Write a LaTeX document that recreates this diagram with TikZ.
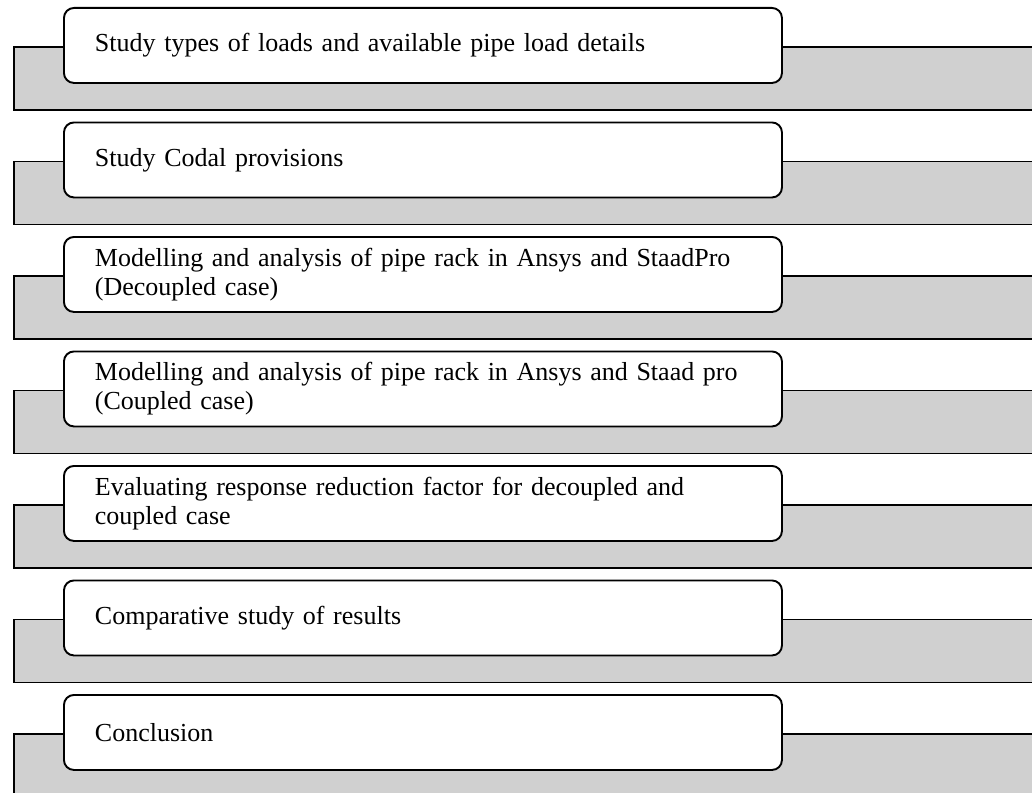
\documentclass[tikz,border=0pt]{standalone}
\usepackage{fontspec}
\setmainfont[WordSpace=0.9]{Liberation Serif}
\definecolor{bargray}{RGB}{208,208,208}
\begin{document}
\begin{tikzpicture}[x=1pt,y=-1pt,
  graybar/.style={draw=black, line width=1.9pt, fill=bargray, anchor=north west,
    minimum width=1040pt, minimum height=63pt, inner sep=0pt},
  stepbox/.style={draw=black, line width=1.9pt, fill=white, rounded corners=10pt,
    anchor=north west, text width=656pt, inner xsep=31pt, inner ysep=0pt,
    minimum height=75pt, align=left,
    font=\fontsize{26}{29}\selectfont}]
\useasboundingbox (0,0) rectangle (1032,792);
\clip (0,0) rectangle (1032,792);
\foreach \i/\t in {0/{Study types of loads and available pipe load details},
  1/{Study Codal provisions},
  2/{Modelling and analysis of pipe rack in Ansys and StaadPro\\(Decoupled case)},
  3/{Modelling and analysis of pipe rack in Ansys and Staad pro\\(Coupled case)},
  4/{Evaluating response reduction factor for decoupled and\\coupled case},
  5/{Comparative study of results},
  6/{Conclusion}}{
  \pgfmathsetmacro{\top}{7+114.5*\i}
  \node[graybar] (g\i) at (13,\top+39) {};
  \node[stepbox] (b\i) at (63,\top) {\t};
}
\end{tikzpicture}
\end{document}
